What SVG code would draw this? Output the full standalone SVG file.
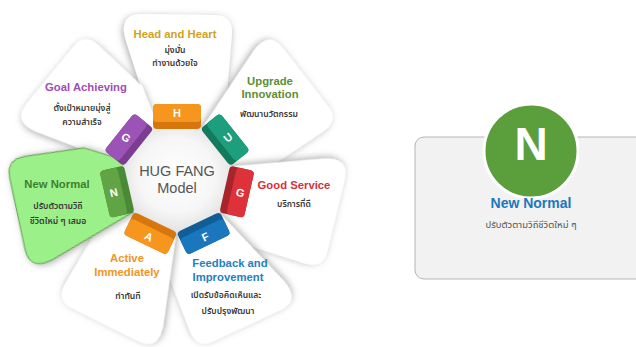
<svg xmlns="http://www.w3.org/2000/svg" width="636" height="347" viewBox="0 0 636 347">
  <style>
    .petal { fill: #ffffff; filter: url(#shadow); }
    .petal-green { fill: #9cf08a; stroke: #5f9e4a; stroke-width: 1; filter: url(#shadow); }
    .title { font-family: "Liberation Sans", Arial, sans-serif; font-weight: bold; font-size: 11.3px; text-anchor: middle; }
    .thai { font-family: "Noto Sans Thai", "Noto Sans", "DejaVu Sans", sans-serif; font-size: 8.6px; font-weight: 600; fill: #3a3a3a; text-anchor: middle; }
    .tab-letter { font-family: "Liberation Sans", Arial, sans-serif; font-weight: bold; font-size: 11px; fill: #ffffff; text-anchor: middle; }
    .hub-text { font-family: "Liberation Sans", Arial, sans-serif; font-size: 14.5px; fill: #555555; text-anchor: middle; }
  </style>
  <defs>
    <filter id="shadow" x="-30%" y="-30%" width="160%" height="160%">
      <feDropShadow dx="-1" dy="2" stdDeviation="3.5" flood-color="#6e6e6e" flood-opacity="0.6"/>
    </filter>
    <filter id="soft" x="-30%" y="-30%" width="160%" height="160%">
      <feDropShadow dx="0" dy="1" stdDeviation="2" flood-color="#888888" flood-opacity="0.5"/>
    </filter>
    <radialGradient id="hubFill" cx="50%" cy="45%" r="60%">
      <stop offset="0" stop-color="#ffffff"/>
      <stop offset="0.6" stop-color="#f6f6f6"/>
      <stop offset="1" stop-color="#dcdcdc"/>
    </radialGradient>
    <!-- one petal, pointing up from the hub centre at (0,0) -->
    <path id="petalShape" d="M -22,-46 L -52,-140 Q -58,-164 -36,-164 L 38,-163 Q 56,-163 55,-144 L 50,-84 L 28,-46 Z"/>
    <!-- tab: darker inner band under a lighter outer face -->
    <rect id="tabBase" x="-24" y="-74" width="48" height="25" rx="4"/>
    <rect id="tabFace" x="-24" y="-74" width="48" height="18" rx="4"/>
  </defs>

  <!-- petals, rotated about the hub centre -->
  <g id="petals">
    <use href="#petalShape" class="petal" transform="translate(177 178) rotate(0)"/>
    <use href="#petalShape" class="petal" transform="translate(177 178) rotate(51.43)"/>
    <use href="#petalShape" class="petal" transform="translate(177 178) rotate(102.86)"/>
    <use href="#petalShape" class="petal" transform="translate(177 178) rotate(154.29)"/>
    <use href="#petalShape" class="petal" transform="translate(177 178) rotate(205.71)"/>
    <use href="#petalShape" class="petal" transform="translate(177 178) rotate(308.57)"/>
    <use href="#petalShape" class="petal-green" transform="translate(177 178) rotate(257.14)"/>
  </g>

  <!-- hub -->
  <g id="hub">
    <polygon points="153.1,128.4 200.9,128.4 230.6,165.8 220.0,212.3 177,233 134.0,212.3 123.4,165.8" fill="url(#hubFill)" stroke="#e2e2e2" stroke-width="1" stroke-linejoin="round" filter="url(#soft)"/>
    <text class="hub-text" x="177" y="176">HUG FANG</text>
    <text class="hub-text" x="177" y="193">Model</text>
  </g>

  <g id="node-h">
    <g transform="translate(177 178) rotate(0)">
      <use href="#tabBase" fill="#d8760e"/>
      <use href="#tabFace" fill="#f7961f"/>
      <text class="tab-letter" transform="translate(0 -65) rotate(0)" y="4">H</text>
    </g>
    <text class="title" x="175" y="38" fill="#d2a21a">Head and Heart</text>
    <text class="thai" x="175" y="53">มุ่งมั่น</text>
    <text class="thai" x="175" y="66">ทำงานด้วยใจ</text>
  </g>

  <g id="node-u">
    <g transform="translate(177 178) rotate(51.43)">
      <use href="#tabBase" fill="#137a5e"/>
      <use href="#tabFace" fill="#1d9e7c"/>
      <text class="tab-letter" transform="translate(0 -65) rotate(-90)" y="4">U</text>
    </g>
    <text class="title" x="270" y="85" fill="#5b8f33">Upgrade</text>
    <text class="title" x="270" y="98" fill="#5b8f33">Innovation</text>
    <text class="thai" x="269" y="117">พัฒนานวัตกรรม</text>
  </g>

  <g id="node-g-service">
    <g transform="translate(177 178) rotate(102.86)">
      <use href="#tabBase" fill="#a8232a"/>
      <use href="#tabFace" fill="#dd3239"/>
      <text class="tab-letter" transform="translate(0 -65) rotate(-90)" y="4">G</text>
    </g>
    <text class="title" x="294" y="189" fill="#d7303b">Good Service</text>
    <text class="thai" x="294" y="207">บริการที่ดี</text>
  </g>

  <g id="node-f">
    <g transform="translate(177 178) rotate(154.29)">
      <use href="#tabBase" fill="#115d96"/>
      <use href="#tabFace" fill="#1a77bd"/>
      <text class="tab-letter" transform="translate(0 -65) rotate(-180)" y="4">F</text>
    </g>
    <text class="title" x="230" y="267" fill="#1f80c2">Feedback and</text>
    <text class="title" x="228" y="281" fill="#1f80c2">Improvement</text>
    <text class="thai" x="226" y="298">เปิดรับข้อคิดเห็นและ</text>
    <text class="thai" x="228" y="314">ปรับปรุงพัฒนา</text>
  </g>

  <g id="node-a">
    <g transform="translate(177 178) rotate(205.71)">
      <use href="#tabBase" fill="#d8760e"/>
      <use href="#tabFace" fill="#f7961f"/>
      <text class="tab-letter" transform="translate(0 -65) rotate(-180)" y="4">A</text>
    </g>
    <text class="title" x="127" y="262" fill="#f39425">Active</text>
    <text class="title" x="127" y="276" fill="#f39425">Immediately</text>
    <text class="thai" x="128" y="299">ทำทันที</text>
  </g>

  <g id="node-n">
    <g transform="translate(177 178) rotate(257.14)">
      <use href="#tabBase" fill="#4a8a35"/>
      <use href="#tabFace" fill="#60a445"/>
      <text class="tab-letter" transform="translate(0 -65) rotate(-270)" y="4">N</text>
    </g>
    <text class="title" x="57" y="188" fill="#3f7f2f">New Normal</text>
    <text class="thai" x="58" y="209">ปรับตัวตามวิถี</text>
    <text class="thai" x="58" y="224">ชีวิตใหม่ ๆ เสมอ</text>
  </g>

  <g id="node-g-goal">
    <g transform="translate(177 178) rotate(308.57)">
      <use href="#tabBase" fill="#7a3d91"/>
      <use href="#tabFace" fill="#9b54b5"/>
      <text class="tab-letter" transform="translate(0 -65) rotate(-270)" y="4">G</text>
    </g>
    <text class="title" x="86" y="91" fill="#a14db6">Goal Achieving</text>
    <text class="thai" x="82" y="111">ตั้งเป้าหมายมุ่งสู่</text>
    <text class="thai" x="82" y="125">ความสำเร็จ</text>
  </g>

  <!-- detail card for the selected value -->
  <g id="detail-card">
    <rect x="415" y="137" width="240" height="142" rx="9" fill="#f2f2f2" stroke="#b4b4b4" stroke-width="1"/>
    <circle cx="531" cy="151" r="47" fill="#5b9e3c" stroke="#ffffff" stroke-width="3"/>
    <text x="531" y="160" font-family="Liberation Sans, Arial, sans-serif" font-weight="bold" font-size="46" fill="#ffffff" text-anchor="middle">N</text>
    <text x="531" y="208" font-family="Liberation Sans, Arial, sans-serif" font-weight="bold" font-size="14" fill="#1b78bd" text-anchor="middle">New Normal</text>
    <text x="531" y="228" font-family="Noto Sans Thai, Noto Sans, DejaVu Sans, sans-serif" font-size="9.5" fill="#555555" text-anchor="middle">ปรับตัวตามวิถีชีวิตใหม่ ๆ</text>
  </g>
</svg>
